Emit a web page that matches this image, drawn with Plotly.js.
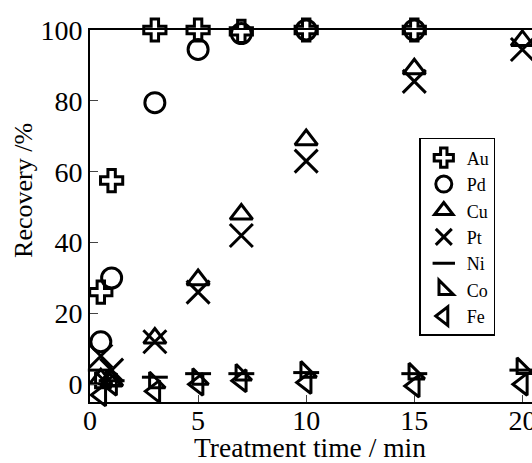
<!DOCTYPE html>
<html>
<head>
<meta charset="utf-8">
<script src="https://cdn.plot.ly/plotly-3.0.1.min.js"></script>
<style>
html,body{margin:0;padding:0;overflow:hidden;background:#fff;}
#chart{width:560px;height:463px;}
</style>
</head>
<body>
<div id="chart"></div>
<script>
// Treatment time (min)
const time = [0.5, 1, 3, 5, 7, 10, 15, 20];
const timeAuPd = [0.5, 1, 3, 5, 7, 10, 15];
// Recovery (%)
const Au = [26, 57.5, 100, 100, 99.6, 100, 100];
const Pd = [12, 30, 79.5, 94.5, 99, 100, 100];
const Cu = [1.5, 1, 13, 29.5, 48, 69, 89, 97];
const Pt = [8, 4, 12, 26, 42, 63, 85.5, 94.5];
const Ni = [4, 1, 2, 3, 3, 3.3, 3, 4];
const Co = [0.5, 1, 0.5, 1.5, 2.7, 3.5, 3, 4.5];
const Fe = [-3, 0, -2, 0, 1, 0.5, -0.5, 0];

const names = ["Au", "Pd", "Cu", "Pt", "Ni", "Co", "Fe"];
const xs = [timeAuPd, timeAuPd, time, time, time, time, time];
const ys = [Au, Pd, Cu, Pt, Ni, Co, Fe];
const symbols = ["cross-open", "circle-open", "triangle-up-open", "x-thin-open",
                 "line-ew-open", "triangle-sw-open", "triangle-left-open"];
const sizes = [18.5, 20, 19.5, 23, 18.5, 17.5, 19];

const traces = names.map((n, i) => ({
  type: "scatter",
  mode: "markers",
  name: n,
  x: xs[i],
  y: ys[i],
  cliponaxis: false,
  marker: {
    symbol: symbols[i],
    size: sizes[i],
    color: "black",
    line: {color: "black", width: 3}
  }
}));

const font = "Liberation Serif";
const layout = {
  width: 560,
  height: 463,
  margin: {l: 90, r: 16.4, t: 30, b: 61},
  paper_bgcolor: "white",
  plot_bgcolor: "white",
  showlegend: true,
  font: {family: font, color: "black"},
  xaxis: {
    range: [0, 21],
    tickvals: [0, 5, 10, 15, 20],
    ticks: "inside",
    ticklen: 7,
    tickwidth: 1,
    tickcolor: "#444",
    ticklabelstandoff: -8,
    showline: true,
    linewidth: 2,
    linecolor: "black",
    mirror: true,
    showgrid: false,
    zeroline: false,
    tickfont: {family: font, size: 28, color: "black"}
  },
  yaxis: {
    range: [-5, 100],
    tickvals: [0, 20, 40, 60, 80, 100],
    ticks: "inside",
    ticklen: 8,
    tickwidth: 1,
    tickcolor: "#444",
    showline: true,
    linewidth: 2,
    linecolor: "black",
    mirror: true,
    showgrid: false,
    zeroline: false,
    tickfont: {family: font, size: 28, color: "black"}
  },
  legend: {
    x: 0.7253, y: 0.7097, xanchor: "left", yanchor: "top",
    itemwidth: 36,
    bgcolor: "white",
    bordercolor: "black",
    borderwidth: 1.5,
    font: {family: font, size: 18, color: "black"}
  },
  annotations: [
    {text: "Treatment time / min", xref: "paper", yref: "paper",
     x: 0.484, y: -0.121, xanchor: "center", yanchor: "middle",
     showarrow: false, font: {family: font, size: 27.5, color: "black"}},
    {text: "Recovery /%", xref: "paper", yref: "paper",
     x: -0.1455, y: 0.57, xanchor: "center", yanchor: "middle", textangle: -90,
     showarrow: false, font: {family: font, size: 26, color: "black"}}
  ]
};

Plotly.newPlot("chart", traces, layout, {displayModeBar: false, staticPlot: true});
</script>
</body>
</html>
